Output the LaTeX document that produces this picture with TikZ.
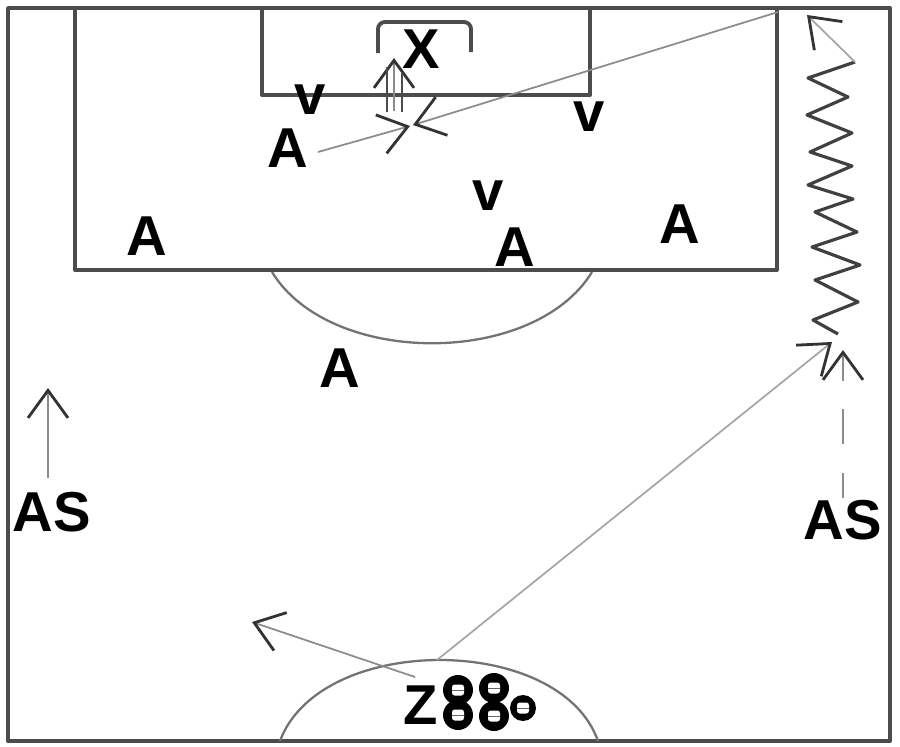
\documentclass[tikz,border=0pt]{standalone}
\usepackage{fontspec}
\setmainfont{Liberation Sans}
\usetikzlibrary{arrows.meta}

\begin{document}
\begin{tikzpicture}[x=0.02cm, y=-0.02cm,
    field/.style={line width=2.2pt, draw=black!70, line join=round},
    curve/.style={line width=1.3pt, draw=black!55},
    move/.style={line width=1pt, draw=black!45,
      -{Straight Barb[length=0.55cm, width=0.8cm, line width=1.6pt, color=black!80]}},
    dribble/.style={line width=1.8pt, draw=black!75, line join=round},
    player/.style={font=\bfseries\fontsize{32}{32}\selectfont, inner sep=0pt},
    ball/.style={circle, fill=black, minimum size=0.6cm, inner sep=0pt,
      path picture={\fill[white, rounded corners=1.5pt] (path picture bounding box.center) ++(-0.12cm,-0.11cm) rectangle ++(0.24cm,0.22cm);
        \draw[black!60, line width=0.5pt] (path picture bounding box.center) ++(-0.12cm,0) -- ++(0.24cm,0);}}]
  \useasboundingbox (0,0) rectangle (900,747);

  % field
  \draw[field] (8,8) rectangle (890,741);
  \draw[field] (75,8) -- (75,270) -- (777,270) -- (777,8);
  \draw[field] (262,8) -- (262,95) -- (590,95) -- (590,8);
  \draw[field, rounded corners=4pt] (378,53) -- (378,22) -- (471,22) -- (471,52);
  \draw[curve] (272,272) .. controls (330,367) and (534,367) .. (592,272);
  \draw[curve] (280,741) .. controls (320,633) and (560,633) .. (598,741);

  % players
  \node[player] (X) at (421,49) {X};
  \node[player] (V1) at (310,100) {v};
  \node[player] (V2) at (589,117) {v};
  \node[player] (V3) at (488,196) {v};
  \node[player] (A1) at (288,148) {A};
  \node[player] (A2) at (147,236) {A};
  \node[player] (A3) at (515,247) {A};
  \node[player] (A4) at (680,224) {A};
  \node[player] (A5) at (340,368) {A};
  \node[player] (AS1) at (52,512) {AS};
  \node[player] (AS2) at (843,520) {AS};
  \node[player] (Z) at (421,705) {Z};

  % balls
  \foreach \bx/\by [count=\i] in {458/690, 494/688, 458/715, 494/716}
    \node[ball] (Ball\i) at (\bx,\by) {};
  \node[ball, minimum size=0.52cm] (Ball5) at (523,708) {};

  % runs and passes
  \coordinate (RunL0) at (48,478);
  \coordinate (RunL1) at (48,388);
  \draw[move] (RunL0) -- (RunL1);

  \coordinate (RunR0) at (843,498);
  \coordinate (RunR1) at (843,350);
  \draw[move, dash pattern=on 0.5cm off 0.58cm on 0.7cm off 0.56cm on 2cm] (RunR0) -- (RunR1);

  \coordinate (PassS) at (437,660);
  \coordinate (PassT) at (832,342);
  \draw[move, draw=black!35] (PassS) -- (PassT);

  \coordinate (PassZ) at (415,677);
  \coordinate (PassW) at (252,622);
  \draw[move] (PassZ) -- (PassW);

  \coordinate (Drib0) at (838,334);
  \coordinate (Drib1) at (855,62);
  \draw[dribble] (Drib0) -- (813,320) -- (858,302) -- (815,280) -- (860,265) -- (812,247)
    -- (857,232) -- (815,212) -- (853,199) -- (808,185) -- (852,166) -- (810,152)
    -- (852,133) -- (807,115) -- (848,97) -- (808,78) -- (Drib1);
  \coordinate (Shot) at (807,15);
  \draw[move, draw=black!35] (Drib1) -- (Shot);

  \coordinate (PassC0) at (778,12);
  \coordinate (PassC1) at (413,125);
  \draw[move] (PassC0) -- (PassC1);

  \coordinate (RunA0) at (318,152);
  \coordinate (RunA1) at (410,126);
  \draw[move] (RunA0) -- (RunA1);

  % goalkeeper
  \coordinate (Keep0) at (394,111);
  \coordinate (Keep1) at (394,58);
  \draw[move] (Keep0) -- (Keep1);
  \coordinate (KeepL0) at (387,112);
  \coordinate (KeepL1) at (387,67);
  \coordinate (KeepR0) at (402,112);
  \coordinate (KeepR1) at (402,73);
  \draw[line width=1.5pt, draw=black!70] (KeepL0) -- (KeepL1);
  \draw[line width=1.5pt, draw=black!70] (KeepR0) -- (KeepR1);
\end{tikzpicture}
\end{document}
